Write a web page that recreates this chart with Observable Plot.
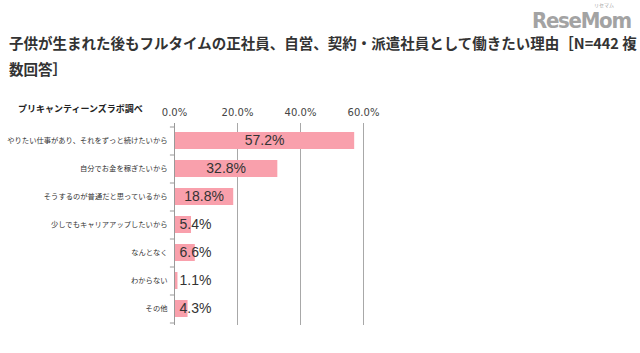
<!DOCTYPE html>
<html><head><meta charset="utf-8">
<script src="https://cdn.jsdelivr.net/npm/d3@7"></script>
<script src="https://cdn.jsdelivr.net/npm/@observablehq/plot@0.6"></script>
<style>
body{margin:0;background:#fff;width:640px;height:353px;overflow:hidden;position:relative;font-family:"Noto Sans CJK JP",sans-serif;}
#title{position:absolute;left:9px;top:30px;font-size:14.5px;font-weight:bold;line-height:26px;color:#333;white-space:nowrap;}
#logo{position:absolute;left:532px;top:10px;line-height:22px;font-family:"DejaVu Sans Condensed","DejaVu Sans",sans-serif;font-weight:bold;font-size:22px;color:#a3a3a3;letter-spacing:-1.3px;}
#kana{position:absolute;left:594px;top:2px;line-height:6px;font-size:5px;color:#a3a3a3;}
#source{position:absolute;left:18px;top:102px;font-size:9px;font-weight:bold;color:#222;}
#chart{position:absolute;left:0;top:82px;}
</style></head>
<body>
<div id="title"></div>
<div id="logo">ReseMom</div>
<div id="kana">リセマム</div>
<div id="source"></div>
<div id="chart"></div>
<script>
const titleLines = ["子供が生まれた後もフルタイムの正社員、自営、契約・派遣社員として働きたい理由［N=442 複", "数回答］"];
const sourceNote = "プリキャンティーンズラボ調べ";
const categories = [
  "やりたい仕事があり、それをずっと続けたいから",
  "自分でお金を稼ぎたいから",
  "そうするのが普通だと思っているから",
  "少しでもキャリアアップしたいから",
  "なんとなく",
  "わからない",
  "その他"
];
const values = [57.2, 32.8, 18.8, 5.4, 6.6, 1.1, 4.3];
const xTicks = [0, 20, 40, 60];

document.getElementById("title").innerHTML = titleLines.join("<br>");
document.getElementById("source").textContent = sourceNote;

const data = categories.map((c, i) => ({category: c, value: values[i]}));
const fmt = d => d.toFixed(1) + "%";
const big = data.filter(d => d.value >= 15);
const small = data.filter(d => d.value < 15);

const chart = Plot.plot({
  width: 640, height: 271,
  marginTop: 41, marginBottom: 28, marginLeft: 174, marginRight: 277,
  x: {domain: [0, 60]},
  y: {domain: categories, paddingInner: 0.4, paddingOuter: 0.3},
  marks: [
    Plot.ruleX(xTicks.slice(1), {stroke: "#a8a8a8", strokeWidth: 1}),
    Plot.barX(data, {y: "category", x: "value", fill: "#f9a0ac"}),
    Plot.ruleX([0], {stroke: "#999"}),
    Plot.ruleY(categories, {y: d => d, x1: -1.3, x2: 0, dy: -14, stroke: "#999"}),
    Plot.ruleY(categories.slice(-1), {y: d => d, x1: -1.3, x2: 0, dy: 14, stroke: "#999"}),
    Plot.text(big, {y: "category", x: d => d.value / 2, text: d => fmt(d.value), fontSize: 14, fill: "#333", fontFamily: "Liberation Sans"}),
    Plot.text(small, {y: "category", x: 0, text: d => fmt(d.value), textAnchor: "start", dx: 5, fontSize: 14, fill: "#333", fontFamily: "Liberation Sans"}),
    Plot.axisX({anchor: "top", ticks: xTicks, tickFormat: fmt, tickSize: 0, tickPadding: 8, fontSize: 10, fontFamily: "DejaVu Sans", fill: "#444", label: null}),
    Plot.axisY({tickSize: 0, tickPadding: 7, fontSize: 7.3, fontFamily: "Noto Sans CJK JP", fill: "#333", label: null})
  ]
});
document.getElementById("chart").appendChild(chart);
</script>
</body></html>
